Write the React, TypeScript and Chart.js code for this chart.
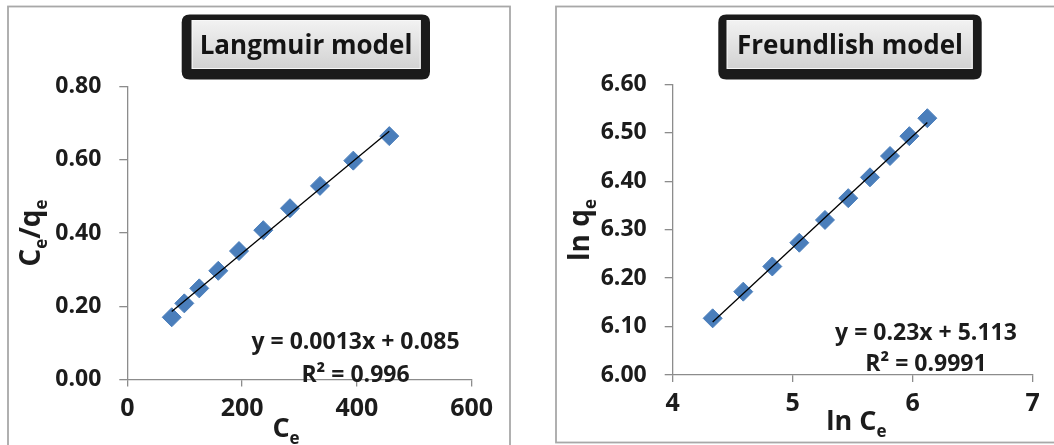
import { useEffect, useRef } from "react";
import { Chart, registerables } from "chart.js";

Chart.register(...registerables);

// Langmuir linearisation: Ce against Ce/qe
const langmuirCe = [77.4, 99.3, 125.4, 158.5, 194.6, 236.9, 283.4, 335.7, 393.7, 456.4];
const langmuirCeQe = [0.17, 0.208, 0.249, 0.297, 0.351, 0.408, 0.468, 0.529, 0.598, 0.665];
const langmuirSlope = 0.0013;
const langmuirIntercept = 0.085;
const langmuirR2 = "0.996";
const langmuirXTicks = [0, 200, 400, 600];
const langmuirYTicks = [0, 0.2, 0.4, 0.6, 0.8];

// Freundlich linearisation: ln Ce against ln qe
const freundlichLnCe = [4.333, 4.588, 4.83, 5.055, 5.269, 5.463, 5.644, 5.811, 5.972, 6.122];
const freundlichLnQe = [6.117, 6.172, 6.224, 6.273, 6.32, 6.365, 6.408, 6.452, 6.493, 6.53];
const freundlichSlope = 0.23;
const freundlichIntercept = 5.113;
const freundlichR2 = "0.9991";
const freundlichXTicks = [4, 5, 6, 7];
const freundlichYTicks = [6.0, 6.1, 6.2, 6.3, 6.4, 6.5, 6.6];

const FONT = "'Open Sans', Lato, sans-serif";
const TEXT = "#1c1c1c";
const AXIS = "#8c8c8c";
const MARKER = "#4a7ebb";
const W = 527;
const H = 445;

type Run = { text: string; sub?: boolean };

type Panel = {
  title: string;
  xs: number[];
  ys: number[];
  slope: number;
  intercept: number;
  r2: string;
  xTicks: number[];
  yTicks: number[];
  xDecimals: number;
  yDecimals: number;
  area: { left: number; right: number; top: number; bottom: number };
  frame: { left: number; top: number; right: number; bottom: number };
  titleBox: { outer: number[]; inner: number[]; cx: number; baseline: number };
  xTitle: Run[];
  xTitlePos: { cx: number; baseline: number };
  yTitle: Run[];
  yTitlePos: { cy: number; baseline: number };
  eqPos: { cx: number; line1: number; line2: number };
};

const panels: Panel[] = [
  {
    title: "Langmuir model",
    xs: langmuirCe,
    ys: langmuirCeQe,
    slope: langmuirSlope,
    intercept: langmuirIntercept,
    r2: langmuirR2,
    xTicks: langmuirXTicks,
    yTicks: langmuirYTicks,
    xDecimals: 0,
    yDecimals: 2,
    area: { left: 127.3, right: 471.7, top: 86.7, bottom: 379.5 },
    frame: { left: 8, top: 6.5, right: 510, bottom: 470 },
    titleBox: { outer: [181.7, 14.5, 430, 79.5], inner: [191.7, 20, 420.7, 69], cx: 306, baseline: 53.5 },
    xTitle: [{ text: "C" }, { text: "e", sub: true }],
    xTitlePos: { cx: 286, baseline: 437 },
    yTitle: [{ text: "C" }, { text: "e", sub: true }, { text: "/q" }, { text: "e", sub: true }],
    yTitlePos: { cy: 233, baseline: 40 },
    eqPos: { cx: 355.5, line1: 348.7, line2: 381.9 },
  },
  {
    title: "Freundlish model",
    xs: freundlichLnCe,
    ys: freundlichLnQe,
    slope: freundlichSlope,
    intercept: freundlichIntercept,
    r2: freundlichR2,
    xTicks: freundlichXTicks,
    yTicks: freundlichYTicks,
    xDecimals: 0,
    yDecimals: 2,
    area: { left: 145.7, right: 505.7, top: 84.3, bottom: 375 },
    frame: { left: 29, top: 6.5, right: 560, bottom: 442.5 },
    titleBox: { outer: [191.3, 14.5, 454.7, 79.5], inner: [199.7, 20, 445.7, 69], cx: 323, baseline: 53.5 },
    xTitle: [{ text: "ln C" }, { text: "e", sub: true }],
    xTitlePos: { cx: 329.3, baseline: 430 },
    yTitle: [{ text: "ln q" }, { text: "e", sub: true }],
    yTitlePos: { cy: 230, baseline: 62 },
    eqPos: { cx: 399, line1: 340.2, line2: 371.2 },
  },
];

function drawRich(
  ctx: CanvasRenderingContext2D,
  runs: Run[],
  x: number,
  y: number,
  rotate: boolean,
  size: number,
  subSize: number,
  subDrop: number
) {
  ctx.save();
  ctx.translate(x, y);
  if (rotate) ctx.rotate(-Math.PI / 2);
  const mainFont = `bold ${size}px ${FONT}`;
  const subFont = `bold ${subSize}px ${FONT}`;
  let total = 0;
  const widths = runs.map((r) => {
    ctx.font = r.sub ? subFont : mainFont;
    const w = ctx.measureText(r.text).width;
    total += w;
    return w;
  });
  let cursor = -total / 2;
  ctx.fillStyle = TEXT;
  ctx.textAlign = "left";
  ctx.textBaseline = "alphabetic";
  runs.forEach((r, i) => {
    ctx.font = r.sub ? subFont : mainFont;
    ctx.fillText(r.text, cursor, r.sub ? subDrop : 0);
    cursor += widths[i];
  });
  ctx.restore();
}

function roundRect(ctx: CanvasRenderingContext2D, x0: number, y0: number, x1: number, y1: number, r: number) {
  ctx.beginPath();
  ctx.moveTo(x0 + r, y0);
  ctx.lineTo(x1 - r, y0);
  ctx.quadraticCurveTo(x1, y0, x1, y0 + r);
  ctx.lineTo(x1, y1 - r);
  ctx.quadraticCurveTo(x1, y1, x1 - r, y1);
  ctx.lineTo(x0 + r, y1);
  ctx.quadraticCurveTo(x0, y1, x0, y1 - r);
  ctx.lineTo(x0, y0 + r);
  ctx.quadraticCurveTo(x0, y0, x0 + r, y0);
  ctx.closePath();
}

function decorPlugin(p: Panel) {
  return {
    id: "panelDecor",
    afterDraw(chart: Chart) {
      const ctx = chart.ctx;
      ctx.save();

      // panel frame
      ctx.strokeStyle = "#a8a8a8";
      ctx.lineWidth = 1.8;
      ctx.strokeRect(p.frame.left, p.frame.top, p.frame.right - p.frame.left, p.frame.bottom - p.frame.top);

      // title box: dark rounded frame with a grey gradient plate
      const [ox0, oy0, ox1, oy1] = p.titleBox.outer;
      const [ix0, iy0, ix1, iy1] = p.titleBox.inner;
      roundRect(ctx, ox0, oy0, ox1, oy1, 8);
      ctx.fillStyle = "#1b1b1b";
      ctx.fill();
      const g = ctx.createLinearGradient(0, iy0, 0, iy1);
      g.addColorStop(0, "#f2f2f2");
      g.addColorStop(1, "#d2d2d2");
      ctx.fillStyle = g;
      ctx.fillRect(ix0, iy0, ix1 - ix0, iy1 - iy0);
      ctx.strokeStyle = "#f7f7f7";
      ctx.lineWidth = 1;
      ctx.strokeRect(ix0 + 0.5, iy0 + 0.5, ix1 - ix0 - 1, iy1 - iy0 - 1);
      ctx.fillStyle = "#141414";
      ctx.font = `bold 26px ${FONT}`;
      ctx.textAlign = "center";
      ctx.textBaseline = "alphabetic";
      ctx.fillText(p.title, p.titleBox.cx, p.titleBox.baseline);

      // axis titles with subscripts
      drawRich(ctx, p.xTitle, p.xTitlePos.cx, p.xTitlePos.baseline, false, 27, 17, 7);
      drawRich(ctx, p.yTitle, p.yTitlePos.baseline, p.yTitlePos.cy, true, 28, 17, 7);

      // trendline equation
      ctx.fillStyle = TEXT;
      ctx.font = `bold 23px ${FONT}`;
      ctx.textAlign = "center";
      ctx.fillText(`y = ${p.slope}x + ${p.intercept}`, p.eqPos.cx, p.eqPos.line1);
      ctx.fillText(`R² = ${p.r2}`, p.eqPos.cx, p.eqPos.line2);

      ctx.restore();
    },
  };
}

function PanelChart({ panel, offset }: { panel: Panel; offset: number }) {
  const ref = useRef<HTMLCanvasElement | null>(null);

  useEffect(() => {
    if (!ref.current) return;
    const p = panel;
    const xMin = Math.min(...p.xs);
    const xMax = Math.max(...p.xs);
    const points = p.xs.map((x, i) => ({ x, y: p.ys[i] }));
    const trend = [
      { x: xMin, y: p.slope * xMin + p.intercept },
      { x: xMax, y: p.slope * xMax + p.intercept },
    ];

    const chart = new Chart(ref.current, {
      type: "scatter",
      data: {
        datasets: [
          {
            data: trend,
            showLine: true,
            borderColor: "#000000",
            borderWidth: 1.3,
            pointRadius: 0,
            order: 0,
          },
          {
            data: points,
            pointStyle: "rectRot",
            pointRadius: 9.5,
            pointBackgroundColor: MARKER,
            pointBorderColor: MARKER,
            pointBorderWidth: 1,
            order: 1,
          },
        ],
      },
      options: {
        animation: false,
        responsive: false,
        maintainAspectRatio: false,
        events: [],
        layout: { padding: { left: 0, top: p.area.top, right: W - p.area.right, bottom: 0 } },
        plugins: {
          legend: { display: false },
          tooltip: { enabled: false },
          title: { display: false },
        },
        scales: {
          x: {
            type: "linear",
            min: p.xTicks[0],
            max: p.xTicks[p.xTicks.length - 1],
            afterBuildTicks: (s: any) => {
              s.ticks = p.xTicks.map((v) => ({ value: v }));
            },
            afterFit: (s: any) => {
              s.height = H - p.area.bottom;
            },
            ticks: {
              autoSkip: false,
              maxRotation: 0,
              padding: 7,
              color: TEXT,
              font: { family: FONT, weight: "bold", size: 25 },
              callback: (v: any) => Number(v).toFixed(p.xDecimals),
            },
            grid: { drawOnChartArea: false, drawTicks: true, tickLength: 7, color: AXIS, lineWidth: 1.3 },
            border: { display: true, color: AXIS, width: 1.3 },
          },
          y: {
            type: "linear",
            min: p.yTicks[0],
            max: p.yTicks[p.yTicks.length - 1],
            afterBuildTicks: (s: any) => {
              s.ticks = p.yTicks.map((v) => ({ value: v }));
            },
            afterFit: (s: any) => {
              s.width = p.area.left;
            },
            ticks: {
              autoSkip: false,
              padding: 18,
              color: TEXT,
              font: { family: FONT, weight: "bold", size: 23 },
              callback: (v: any) => Number(v).toFixed(p.yDecimals),
            },
            grid: { drawOnChartArea: false, drawTicks: true, tickLength: 8, color: AXIS, lineWidth: 1.3 },
            border: { display: true, color: AXIS, width: 1.3 },
          },
        },
      },
      plugins: [decorPlugin(p)],
    } as any);

    return () => chart.destroy();
  }, [panel]);

  return (
    <canvas
      ref={ref}
      width={W}
      height={H}
      style={{ position: "absolute", left: offset, top: 0, width: W, height: H }}
    />
  );
}

export default function App() {
  return (
    <div
      style={{
        position: "fixed",
        left: 0,
        top: 0,
        width: 1054,
        height: 445,
        background: "#ffffff",
        overflow: "hidden",
      }}
    >
      <PanelChart panel={panels[0]} offset={0} />
      <PanelChart panel={panels[1]} offset={527} />
    </div>
  );
}
